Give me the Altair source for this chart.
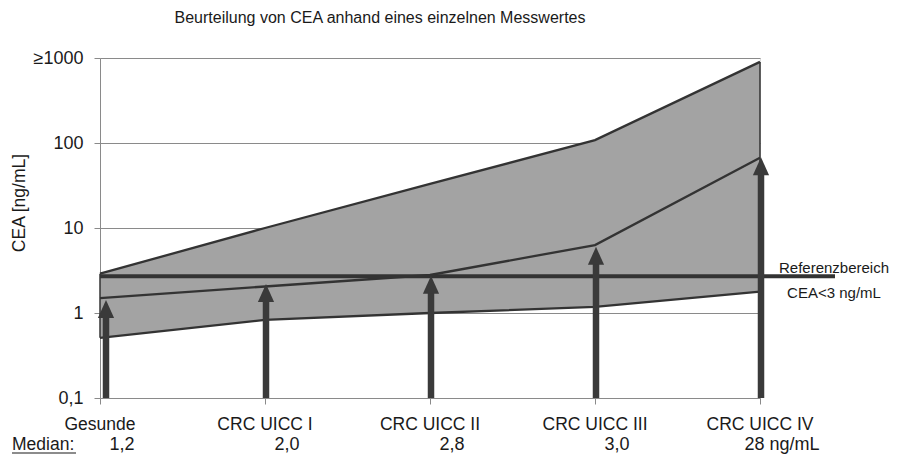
import altair as alt
import pandas as pd

categories = ["Gesunde", "CRC UICC I", "CRC UICC II", "CRC UICC III", "CRC UICC IV"]
medians = ["1,2", "2,0", "2,8", "3,0", "28 ng/mL"]
upper = [2.9, 10, 33, 108, 900]
middle = [1.5, 2.05, 2.8, 6.3, 67]
lower = [0.51, 0.83, 1.0, 1.18, 1.78]
arrow_tip = [1.42, 2.2, 2.75, 6.0, 68]
ref_value = [2.7]
y_ticks = [0.1, 1, 10, 100, 1000]
y_labels = ["0,1", "1", "10", "100", "≥1000"]

FONT = "Liberation Sans"
DARK = "#333333"
TXT = "#1a1a1a"

df = pd.DataFrame({
    "i": list(range(len(categories))),
    "cat": categories,
    "median": medians,
    "upper": upper,
    "middle": middle,
    "lower": lower,
    "tip": arrow_tip,
})

label_expr = "''"
for v, lab in zip(reversed(y_ticks), reversed(y_labels)):
    label_expr = f"(abs(datum.value - {v}) < {v}*0.01) ? '{lab}' : ({label_expr})"

yscale = alt.Scale(type="log", domain=[0.1, 1000], nice=False)
xscale = alt.Scale(domain=[0, 4], nice=False, zero=False)

base = alt.Chart(df)

x_axis = alt.Axis(values=list(range(5)), labels=False, ticks=True, tickSize=6,
                  tickColor="#8a8a8a", domainColor="#8a8a8a", grid=False, title=None)
y_axis = alt.Axis(values=y_ticks, labelExpr=label_expr, grid=True, gridColor="#8a8a8a",
                  gridWidth=1, tickColor="#8a8a8a", tickSize=6, domainColor="#8a8a8a",
                  labelFontSize=18, labelColor=TXT, labelFont=FONT, labelPadding=11,
                  title=None)

band = base.mark_area(color="#a3a3a3", opacity=1).encode(
    x=alt.X("i:Q", scale=xscale, axis=x_axis),
    y=alt.Y("lower:Q", scale=yscale, axis=y_axis),
    y2="upper:Q",
)

lines = []
for f in ["upper", "middle", "lower"]:
    lines.append(base.mark_line(color=DARK, strokeWidth=2.3).encode(
        x=alt.X("i:Q", scale=xscale), y=alt.Y(f"{f}:Q", scale=yscale)))

edges = base.transform_filter("datum.i == 0 || datum.i == 4").mark_rule(
    color=DARK, strokeWidth=1.5).encode(
    x=alt.X("i:Q", scale=xscale), y=alt.Y("lower:Q", scale=yscale), y2="upper:Q")

ref_df = pd.DataFrame({"ref": ref_value})
ref_line = alt.Chart(ref_df).mark_rule(color=DARK, strokeWidth=4).encode(
    y=alt.Y("ref:Q", scale=yscale), x=alt.value(0), x2=alt.value(735))

ref_text1 = alt.Chart(ref_df).mark_text(font=FONT, fontSize=15, color=TXT).encode(
    x=alt.value(734), y=alt.value(210), text=alt.value("Referenzbereich"))
ref_text2 = alt.Chart(ref_df).mark_text(font=FONT, fontSize=15, color=TXT).encode(
    x=alt.value(734), y=alt.value(235), text=alt.value("CEA<3 ng/mL"))

def arrows(filt, xoff):
    b = base.transform_filter(filt).transform_calculate(bottom="0.1")
    shaft = b.mark_rule(color="#3a3a3a", strokeWidth=6.5, strokeCap="butt",
                        xOffset=xoff, y2Offset=12).encode(
        x=alt.X("i:Q", scale=xscale), y=alt.Y("bottom:Q", scale=yscale), y2="tip:Q")
    head = b.mark_point(shape="M0,-1L0.9,1L-0.9,1Z", filled=True, size=324, opacity=1,
                        color="#3a3a3a", xOffset=xoff, yOffset=9).encode(
        x=alt.X("i:Q", scale=xscale), y=alt.Y("tip:Q", scale=yscale))
    return [shaft, head]

arrow_layers = arrows("datum.i == 0", 6) + arrows("datum.i > 0", 1)

names = base.mark_text(font=FONT, fontSize=17.5, color=TXT, align="center").encode(
    x=alt.X("i:Q", scale=xscale), y=alt.value(367), text="cat:N")
median_text = base.mark_text(font=FONT, fontSize=18, color=TXT, align="center", dx=22).encode(
    x=alt.X("i:Q", scale=xscale), y=alt.value(387), text="median:N")

misc_df = pd.DataFrame({"k": [0]})
median_label = alt.Chart(misc_df).mark_text(font=FONT, fontSize=17.5, color=TXT, align="left").encode(
    x=alt.value(-88), y=alt.value(387), text=alt.value("Median:"))
median_underline = alt.Chart(misc_df).mark_rule(color=TXT, strokeWidth=1.2).encode(
    x=alt.value(-88), x2=alt.value(-24), y=alt.value(395))
y_title = alt.Chart(misc_df).mark_text(font=FONT, fontSize=17.5, color=TXT, angle=270).encode(
    x=alt.value(-80), y=alt.value(145), text=alt.value("CEA [ng/mL]"))
title = alt.Chart(misc_df).mark_text(font=FONT, fontSize=16, color=TXT).encode(
    x=alt.value(280), y=alt.value(-40), text=alt.value("Beurteilung von CEA anhand eines einzelnen Messwertes"))

chart = alt.layer(
    band, *lines, edges, ref_line, *arrow_layers,
    ref_text1, ref_text2, names, median_text,
    median_label, median_underline, y_title, title,
).properties(
    width=660, height=340,
    padding={"left": 92, "top": 50, "right": 132, "bottom": 57},
    autosize=alt.AutoSizeParams(type="none"),
).configure_view(stroke=None).configure(font=FONT)

chart.save("out.html", embed_options={"renderer": "svg", "actions": False})
